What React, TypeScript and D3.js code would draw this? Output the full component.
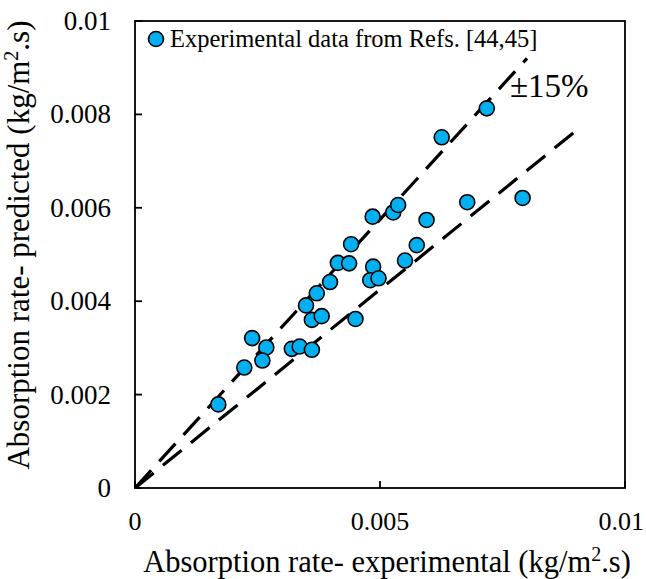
import React from "react";
import { scaleLinear, line } from "d3";

// experimental vs predicted absorption rate (kg/m2.s)
const experimental = [
  0.0017, 0.00223, 0.00239, 0.00268, 0.0026, 0.0032, 0.00336, 0.00361, 0.00349, 0.00371,
  0.00361, 0.00381, 0.00398, 0.00414, 0.00437, 0.0045, 0.00486, 0.0048, 0.00497, 0.00485,
  0.00441, 0.00527, 0.00537, 0.00718, 0.00626, 0.00678, 0.00791, 0.00595, 0.00575, 0.00551
];
const predicted = [
  0.00179, 0.00258, 0.00321, 0.00301, 0.00273, 0.00298, 0.00303, 0.00296, 0.00391, 0.00417,
  0.0036, 0.00368, 0.00441, 0.00482, 0.00481, 0.00362, 0.00474, 0.00445, 0.00449, 0.00581,
  0.00522, 0.0059, 0.00606, 0.00813, 0.00751, 0.00612, 0.00621, 0.00574, 0.0052, 0.00487
];
const xTicks = [0, 0.005, 0.01];
const yTicks = [0, 0.002, 0.004, 0.006, 0.008, 0.01];
// +/-15% bands: [factor, experimental end]
const bands = [
  [1.15, 0.008],
  [0.85, 0.009]
];
const legendLabel = "Experimental data from Refs. [44,45]";

const FONT = "Liberation Serif";
const W = 646, H = 579;

const left = 135, right = 625, top = 21, bottom = 488;
const x = scaleLinear().domain([0, 0.01]).range([left, right]);
const y = scaleLinear().domain([0, 0.01]).range([bottom, top]);
const lineGen = line().x(d => x(d[0])).y(d => y(d[1]));
const fmt = d => (d === 0 ? "0" : String(+d.toFixed(3)));

function App() {
  return (
    <svg
      width={W}
      height={H}
      fontFamily={FONT}
      style={{ position: "absolute", left: 0, top: 0, background: "#fff" }}
    >
      {/* frame */}
      <rect x={left} y={top} width={right - left} height={bottom - top}
        fill="none" stroke="#000" strokeWidth={1.8} />

      {/* x ticks, pointing in; the last label is kept inside the page */}
      {xTicks.map((t, i) => {
        const last = i === xTicks.length - 1;
        return (
          <g key={"x" + t}>
            <line x1={x(t)} x2={x(t)} y1={bottom} y2={bottom - 7} stroke="#000" strokeWidth={1.8} />
            <text x={last ? W - 2 : x(t)} y={bottom + 42}
              textAnchor={last ? "end" : "middle"} fontSize={26}>{fmt(t)}</text>
          </g>
        );
      })}

      {/* y ticks, pointing in */}
      {yTicks.map(t => (
        <g key={"y" + t}>
          <line x1={left} x2={left + 7} y1={y(t)} y2={y(t)} stroke="#000" strokeWidth={1.8} />
          <text x={left - 24} y={y(t) + 9} textAnchor="end" fontSize={27}>{fmt(t)}</text>
        </g>
      ))}

      {/* dashed +/-15% lines */}
      {bands.map(b => (
        <path key={b[0]} d={lineGen([[0, 0], [b[1], b[1] * b[0]]])}
          fill="none" stroke="#000" strokeWidth={3.2} strokeDasharray="24,12" />
      ))}

      {/* points */}
      {experimental.map((e, i) => (
        <circle key={i} cx={x(e)} cy={y(predicted[i])} r={7.5}
          fill="#00B0F0" stroke="#000" strokeWidth={1.6} />
      ))}

      {/* legend */}
      <circle cx={156} cy={39} r={7.5} fill="#00B0F0" stroke="#000" strokeWidth={1.6} />
      <text x={170} y={47} fontSize={24.5}>{legendLabel}</text>

      {/* band label */}
      <text x={510} y={97} fontSize={33}>±15%</text>

      {/* axis titles */}
      <text x={387} y={572} textAnchor="middle" fontSize={30.5}>
        <tspan>Absorption rate- experimental (kg/m</tspan>
        <tspan dy={-11} fontSize={20}>2</tspan>
        <tspan dy={11}>.s)</tspan>
      </text>
      <text transform={`translate(29,245) rotate(-90)`}
        textAnchor="middle" fontSize={31}>
        <tspan>Absorption rate- predicted (kg/m</tspan>
        <tspan dy={-11} fontSize={20}>2</tspan>
        <tspan dy={11}>.s)</tspan>
      </text>
    </svg>
  );
}

export default App;
